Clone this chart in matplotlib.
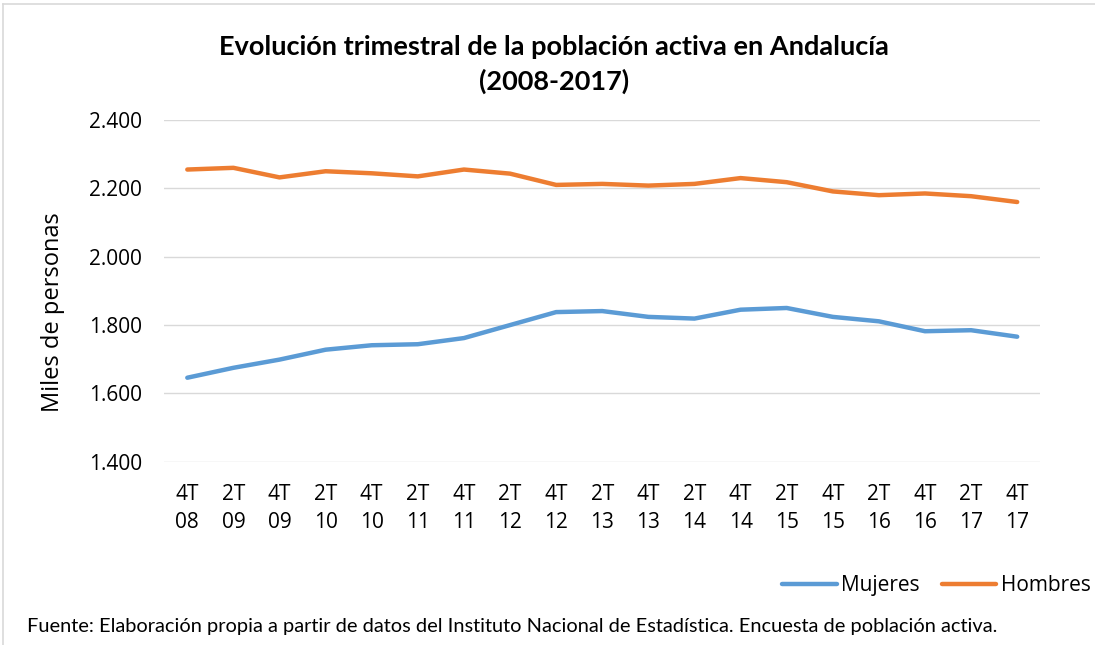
# Evolucion trimestral de la poblacion activa en Andalucia
import matplotlib
matplotlib.use('Agg')
import matplotlib.pyplot as plt
from matplotlib.lines import Line2D
from matplotlib.ticker import FuncFormatter

plt.rcParams['font.family'] = ['Open Sans', 'DejaVu Sans']

# Data (miles de personas)
trimestres = ['4T\n08', '2T\n09', '4T\n09', '2T\n10', '4T\n10', '2T\n11', '4T\n11', '2T\n12',
              '4T\n12', '2T\n13', '4T\n13', '2T\n14', '4T\n14', '2T\n15', '4T\n15', '2T\n16',
              '4T\n16', '2T\n17', '4T\n17']
mujeres = [1646, 1675, 1699, 1728, 1741, 1744, 1762, 1800, 1838, 1841,
           1824, 1819, 1845, 1850, 1824, 1811, 1782, 1785, 1766]
hombres = [2255, 2260, 2232, 2250, 2244, 2235, 2255, 2243, 2210, 2213,
           2208, 2213, 2230, 2218, 2191, 2180, 2185, 2177, 2160]
y_ticks = [1400, 1600, 1800, 2000, 2200, 2400]

fig = plt.figure(figsize=(10.95, 6.45), dpi=100)
ax = fig.add_axes([0.150, 0.284, 0.800, 0.530])

x = list(range(len(trimestres)))
ax.plot(x, mujeres, color='#5B9BD5', lw=3.2, solid_capstyle='round', label='Mujeres')
ax.plot(x, hombres, color='#ED7D31', lw=3.2, solid_capstyle='round', label='Hombres')

ax.set_xlim(-0.5, len(trimestres) - 0.5)
ax.set_ylim(1400, 2400)
ax.set_yticks(y_ticks)
ax.yaxis.set_major_formatter(FuncFormatter(lambda v, p: f'{int(v):,}'.replace(',', '.')))
ax.set_xticks(x)
ax.set_xticklabels(trimestres, fontsize=15, linespacing=1.45)
ax.tick_params(axis='y', labelsize=15, length=0, pad=16)
ax.tick_params(axis='x', length=0, pad=16)
for s in ax.spines.values():
    s.set_visible(False)
ax.grid(axis='y', color='#d9d9d9', lw=1)
ax.set_axisbelow(True)

# y label sits a bit below the axis centre in the original
fig.text(0.048, 0.516, 'Miles de personas', rotation=90, ha='center', va='center',
         fontsize=17)

fig.text(0.506, 0.900, 'Evolución trimestral de la población activa en Andalucía\n(2008-2017)',
         ha='center', va='center', fontsize=19.5, fontweight='bold', linespacing=1.42,
         family=['Lato', 'DejaVu Sans'])

ax.legend(loc='center right', bbox_to_anchor=(1.013, 0.092), bbox_transform=fig.transFigure,
          ncol=2, frameon=False, fontsize=15, handlelength=2.6, handletextpad=0.2,
          columnspacing=1.1)

fig.text(0.025, 0.028, 'Fuente: Elaboración propia a partir de datos del Instituto Nacional de '
         'Estadística. Encuesta de población activa.', fontsize=14.4, ha='left', va='center',
         family=['Lato', 'DejaVu Sans'])

# light frame
fig.add_artist(Line2D([0.003, 0.003], [0, 0.994], color='#d9d9d9', lw=1.2))
fig.add_artist(Line2D([0.003, 1], [0.994, 0.994], color='#d9d9d9', lw=1.2))

fig.savefig('out.png', dpi=100)
